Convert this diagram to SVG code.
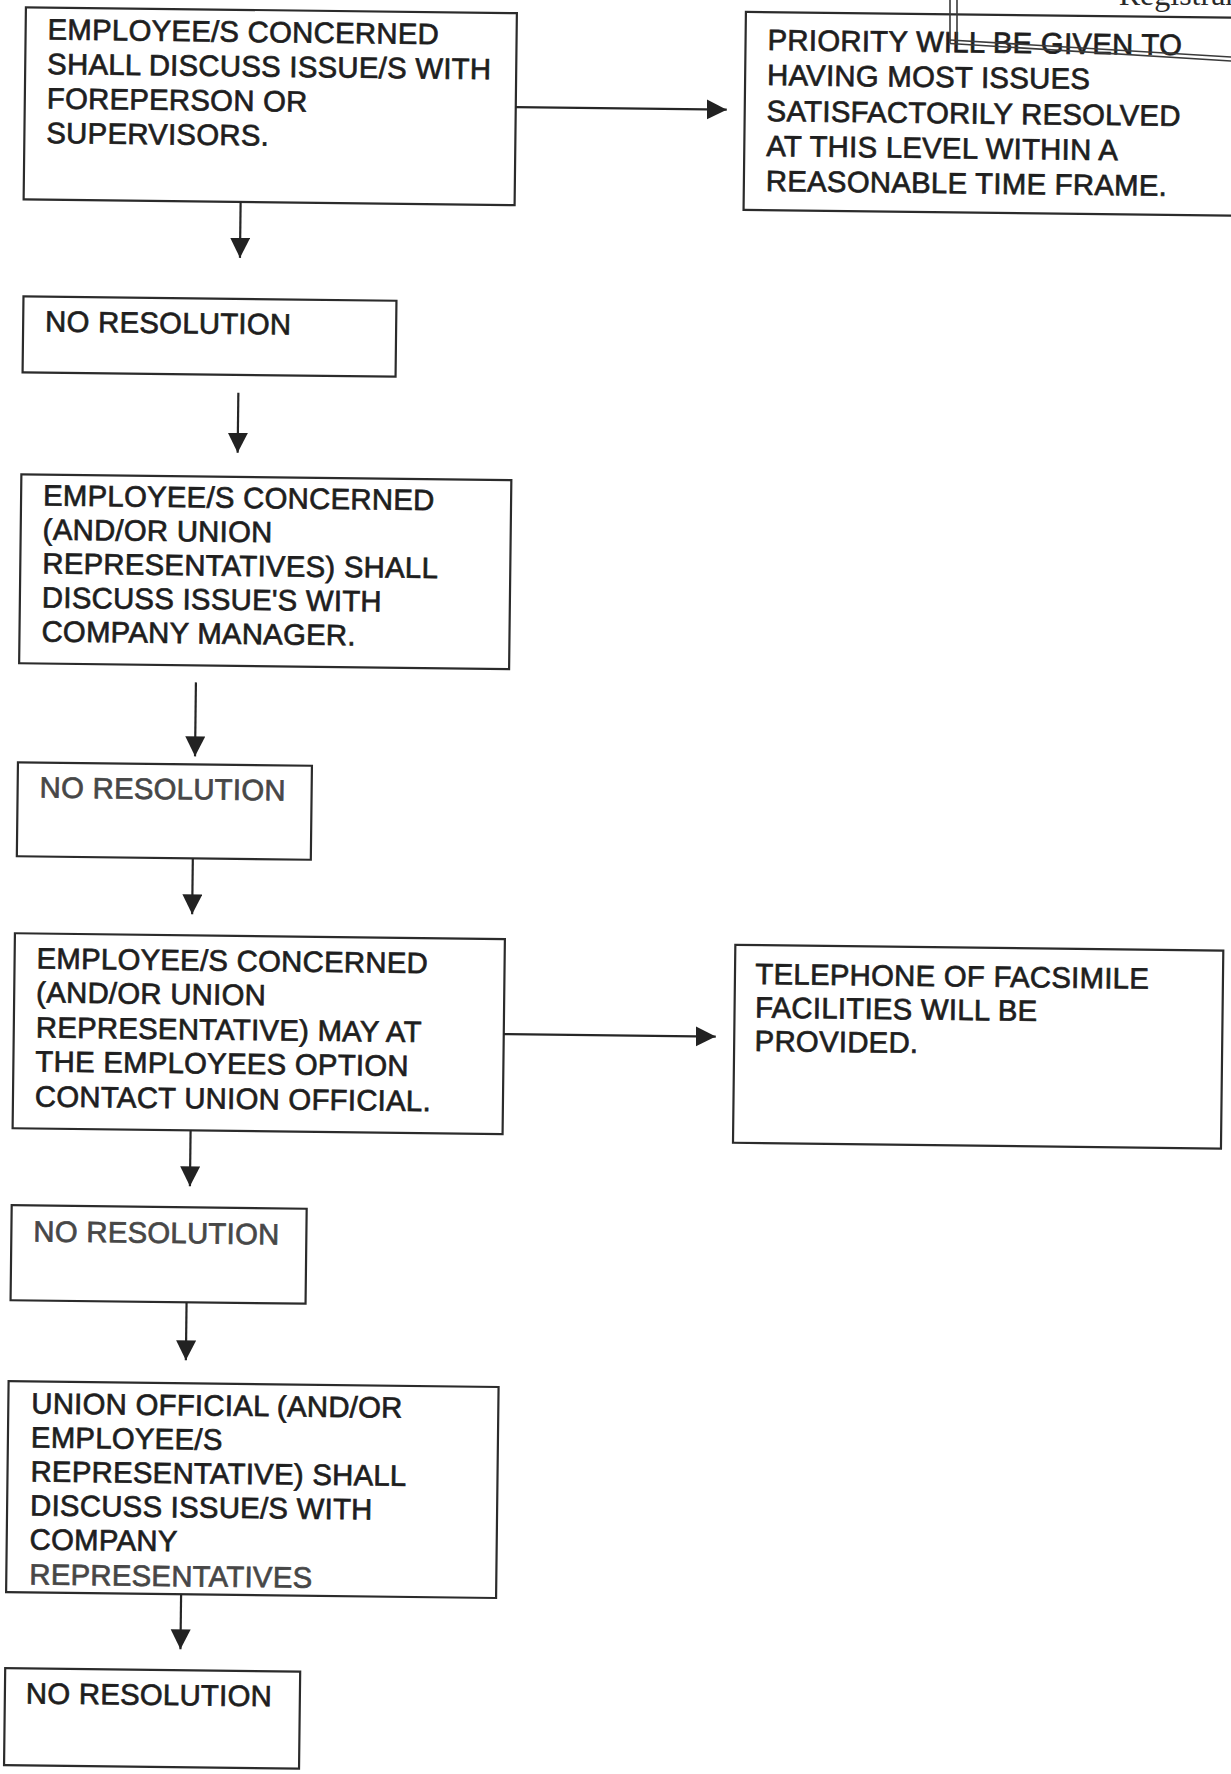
<svg xmlns="http://www.w3.org/2000/svg" width="1231" height="1774" viewBox="0 0 1231 1774">
  <defs>
    <style>
      .box { fill: #ffffff; stroke: #2b2b2b; stroke-width: 2.2; }
      .t { font-family: "Liberation Sans", Arial, sans-serif; font-size: 29.3px; letter-spacing: 0.28px; fill: #1e1e1e; stroke: #1e1e1e; stroke-width: 0.7; }
      .lt { fill: #474747; stroke: #474747; }
      .conn { stroke: #262626; stroke-width: 2.2; fill: none; marker-end: url(#ah); }
      .stamp { stroke: #3a3a3a; stroke-width: 1.6; fill: none; }
    </style>
    <marker id="ah" markerUnits="userSpaceOnUse" markerWidth="22" markerHeight="22" refX="20" refY="10" orient="auto">
      <path d="M0,0 L20,10 L0,20 Z" fill="#222222"/>
    </marker>
  </defs>
  <rect width="1231" height="1774" fill="#ffffff"/>

  <g transform="rotate(0.68)">
    <g id="n1">
      <rect class="box" x="26" y="7" width="491" height="192"/>
      <text class="t" x="48" y="39">EMPLOYEE/S CONCERNED</text>
      <text class="t" x="48" y="73.5">SHALL DISCUSS ISSUE/S WITH</text>
      <text class="t" x="48" y="108">FOREPERSON OR</text>
      <text class="t" x="48" y="142.5">SUPERVISORS.</text>
    </g>
    <g id="n2">
      <rect class="box" x="746" y="3" width="490" height="198"/>
      <text class="t" x="768" y="41">PRIORITY WILL BE GIVEN TO</text>
      <text class="t" x="768" y="76">HAVING MOST ISSUES</text>
      <text class="t" x="768" y="112">SATISFACTORILY RESOLVED</text>
      <text class="t" x="768" y="147">AT THIS LEVEL WITHIN A</text>
      <text class="t" x="768" y="182">REASONABLE TIME FRAME.</text>
    </g>
    <g id="n3">
      <rect class="box" x="27" y="296" width="373" height="76"/>
      <text class="t" x="49" y="331">NO RESOLUTION</text>
    </g>
    <g id="n4">
      <rect class="box" x="27" y="474" width="490" height="189"/>
      <text class="t" x="49" y="505">EMPLOYEE/S CONCERNED</text>
      <text class="t" x="49" y="539">(AND/OR UNION</text>
      <text class="t" x="49" y="573">REPRESENTATIVES) SHALL</text>
      <text class="t" x="49" y="607">DISCUSS ISSUE'S WITH</text>
      <text class="t" x="49" y="641">COMPANY MANAGER.</text>
    </g>
    <g id="n5">
      <rect class="box" x="27" y="762" width="294" height="94"/>
      <text class="t lt" x="49" y="797">NO RESOLUTION</text>
    </g>
    <g id="n6">
      <rect class="box" x="26" y="933" width="490" height="195"/>
      <text class="t" x="48" y="968">EMPLOYEE/S CONCERNED</text>
      <text class="t" x="48" y="1002">(AND/OR UNION</text>
      <text class="t" x="48" y="1037">REPRESENTATIVE) MAY AT</text>
      <text class="t" x="48" y="1071">THE EMPLOYEES OPTION</text>
      <text class="t" x="48" y="1106">CONTACT UNION OFFICIAL.</text>
    </g>
    <g id="n7">
      <rect class="box" x="746.5" y="936" width="488" height="198"/>
      <text class="t" x="767" y="975">TELEPHONE OF FACSIMILE</text>
      <text class="t" x="767" y="1008.5">FACILITIES WILL BE</text>
      <text class="t" x="767" y="1042">PROVIDED.</text>
    </g>
    <g id="n8">
      <rect class="box" x="26" y="1205" width="295" height="95"/>
      <text class="t lt" x="48" y="1241">NO RESOLUTION</text>
    </g>
    <g id="n9">
      <rect class="box" x="25" y="1381" width="490" height="211"/>
      <text class="t" x="48" y="1413">UNION OFFICIAL (AND/OR</text>
      <text class="t" x="48" y="1447">EMPLOYEE/S</text>
      <text class="t" x="48" y="1481">REPRESENTATIVE) SHALL</text>
      <text class="t" x="48" y="1515">DISCUSS ISSUE/S WITH</text>
      <text class="t" x="48" y="1549">COMPANY</text>
      <text class="t lt" x="48" y="1584">REPRESENTATIVES</text>
    </g>
    <g id="n10">
      <rect class="box" x="25" y="1668" width="295" height="97"/>
      <text class="t" x="46" y="1703">NO RESOLUTION</text>
    </g>

    <g id="connectors">
      <line class="conn" x1="517" y1="101" x2="728" y2="101"/>
      <line class="conn" x1="243" y1="199" x2="243" y2="255"/>
      <line class="conn" x1="243" y1="390" x2="243" y2="450"/>
      <line class="conn" x1="204" y1="680" x2="204" y2="754"/>
      <line class="conn" x1="203" y1="856" x2="203" y2="912"/>
      <line class="conn" x1="516" y1="1028" x2="728" y2="1028"/>
      <line class="conn" x1="204" y1="1128" x2="204" y2="1184"/>
      <line class="conn" x1="202" y1="1300" x2="202" y2="1358"/>
      <line class="conn" x1="200" y1="1592" x2="200" y2="1647"/>
    </g>
  </g>

  <g id="stamp-fragment">
    <line class="stamp" x1="950" y1="0" x2="950" y2="43"/>
    <line class="stamp" x1="957" y1="0" x2="957" y2="43"/>
    <line class="stamp" x1="950" y1="40" x2="1231" y2="57"/>
    <line class="stamp" x1="950" y1="43.5" x2="1231" y2="61"/>
    <text x="1236" y="5" text-anchor="end" font-family="Liberation Serif, 'Times New Roman', serif" font-size="32" fill="#2a2a2a">Registrar</text>
  </g>
</svg>
